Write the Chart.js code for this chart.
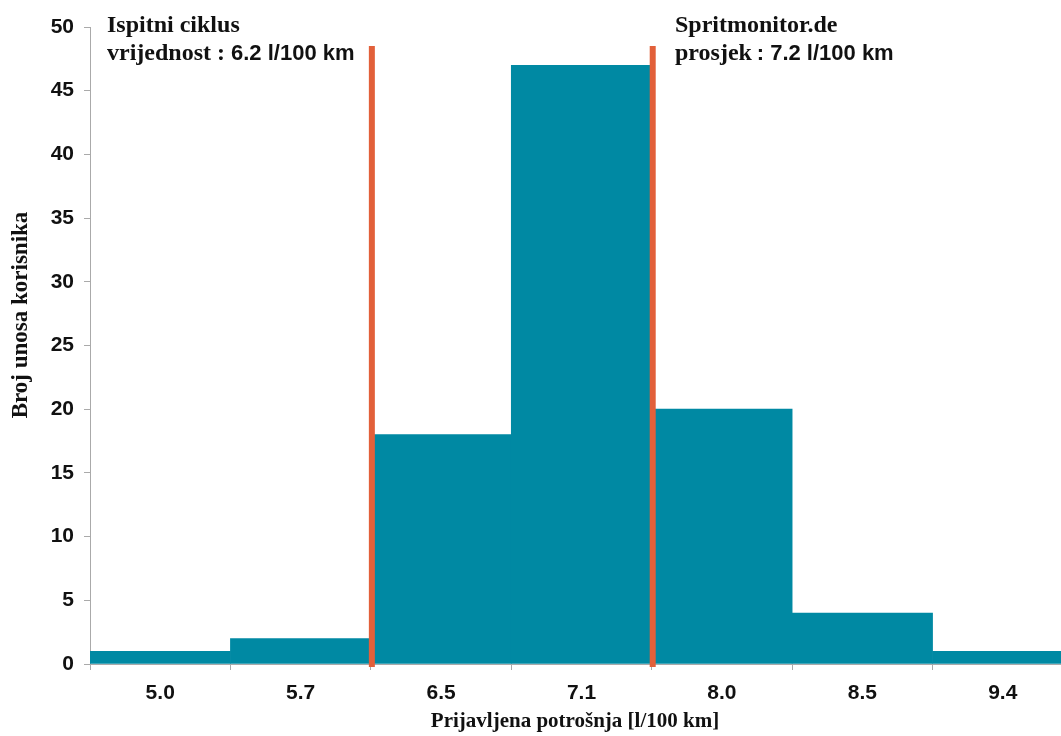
<!DOCTYPE html>
<html>
<head>
<meta charset="utf-8">
<script src="https://cdn.jsdelivr.net/npm/chart.js@4/dist/chart.umd.min.js"></script>
<style>
  html, body { margin: 0; padding: 0; background: #fff; overflow: hidden; }
  #wrap { width: 1061px; height: 736px; overflow: hidden; }
</style>
</head>
<body>
<div id="wrap"><canvas id="histChart" width="1073" height="736"></canvas></div>
<script>
// bins of reported consumption and number of user entries
const bins = ["5.0", "5.7", "6.5", "7.1", "8.0", "8.5", "9.4"];
const counts = [1, 2, 18, 47, 20, 4, 1];

// reference lines sit on the boundary before these bins
const markerBins = ["6.5", "8.0"];
const markerTop = 48.5;

// annotation text: [serif part, sans part]
const noteLeft = [["Ispitni ciklus", ""], ["vrijednost : ", "6.2 l/100 km"]];
const noteRight = [["Spritmonitor.de", ""], ["prosjek\u2009", ": 7.2 l/100 km"]];
const yTitle = "Broj unosa korisnika";
const xTitle = "Prijavljena potrošnja [l/100 km]";

const TEAL = "#0089a3";
const ORANGE = "#e2603a";
const SERIF_FAM = "'Liberation Serif', 'DejaVu Serif', serif";
const SANS_FAM = "'Liberation Sans', Arial, sans-serif";
const SERIF = "bold 24px " + SERIF_FAM;
const SANS = "bold 22px " + SANS_FAM;

const overlay = {
  id: "overlay",
  afterDatasetsDraw(chart) {
    const ctx = chart.ctx;
    const xs = chart.scales.x;
    const ys = chart.scales.y;

    // orange marker lines on bin boundaries
    markerBins.forEach((b) => {
      const i = bins.indexOf(b);
      const px = (xs.getPixelForValue(i - 1) + xs.getPixelForValue(i)) / 2 + 1;
      ctx.save();
      ctx.strokeStyle = ORANGE;
      ctx.lineWidth = 6;
      ctx.beginPath();
      ctx.moveTo(px, ys.getPixelForValue(0) + 3);
      ctx.lineTo(px, ys.getPixelForValue(markerTop));
      ctx.stroke();
      ctx.restore();
    });

    const draw = (lines, x) => {
      lines.forEach((ln, i) => {
        const y = 32 + i * 28;
        let cx = x;
        ctx.save();
        ctx.fillStyle = "#111";
        ctx.textBaseline = "alphabetic";
        ctx.font = SERIF;
        ctx.fillText(ln[0], cx, y);
        cx += ctx.measureText(ln[0]).width;
        ctx.font = SANS;
        ctx.fillText(ln[1], cx, y);
        ctx.restore();
      });
    };
    draw(noteLeft, 107);
    draw(noteRight, 675);

    ctx.save();
    ctx.fillStyle = "#111";
    ctx.textAlign = "center";
    ctx.textBaseline = "middle";
    // x axis title
    ctx.font = "bold 21px " + SERIF_FAM;
    ctx.fillText(xTitle, 575, 722);
    // y axis title
    ctx.translate(21, 315);
    ctx.rotate(-Math.PI / 2);
    ctx.font = "bold 23px " + SERIF_FAM;
    ctx.fillText(yTitle, 0, 0);
    ctx.restore();
  }
};

const actx = document.getElementById("histChart").getContext("2d");

const chart = new Chart(actx, {
  type: "bar",
  data: {
    labels: bins,
    datasets: [
      {
        label: "Broj unosa",
        data: counts,
        backgroundColor: TEAL,
        borderWidth: 0,
        barPercentage: 1,
        categoryPercentage: 1,
      },
    ],
  },
  options: {
    responsive: false,
    animation: false,
    layout: { padding: { top: 27, right: 0, left: 0, bottom: 0 } },
    plugins: { legend: { display: false }, tooltip: { enabled: false } },
    scales: {
      x: {
        offset: true,
        grid: { offset: true, drawOnChartArea: false, tickLength: 6, color: "#aaa" },
        border: { color: "#aaa" },
        ticks: { color: "#111", font: { family: SANS_FAM, size: 21, weight: "bold" }, padding: 11 },
        afterFit: (s) => { s.height = 72; },
      },
      y: {
        min: 0,
        max: 50,
        ticks: { stepSize: 5, color: "#111", font: { family: SANS_FAM, size: 21, weight: "bold" }, padding: 10 },
        grid: { drawOnChartArea: false, tickLength: 6, color: "#aaa" },
        border: { color: "#aaa" },
        afterFit: (s) => { s.width = 90; },
      },
    },
  },
  plugins: [overlay],
});
</script>
</body>
</html>
